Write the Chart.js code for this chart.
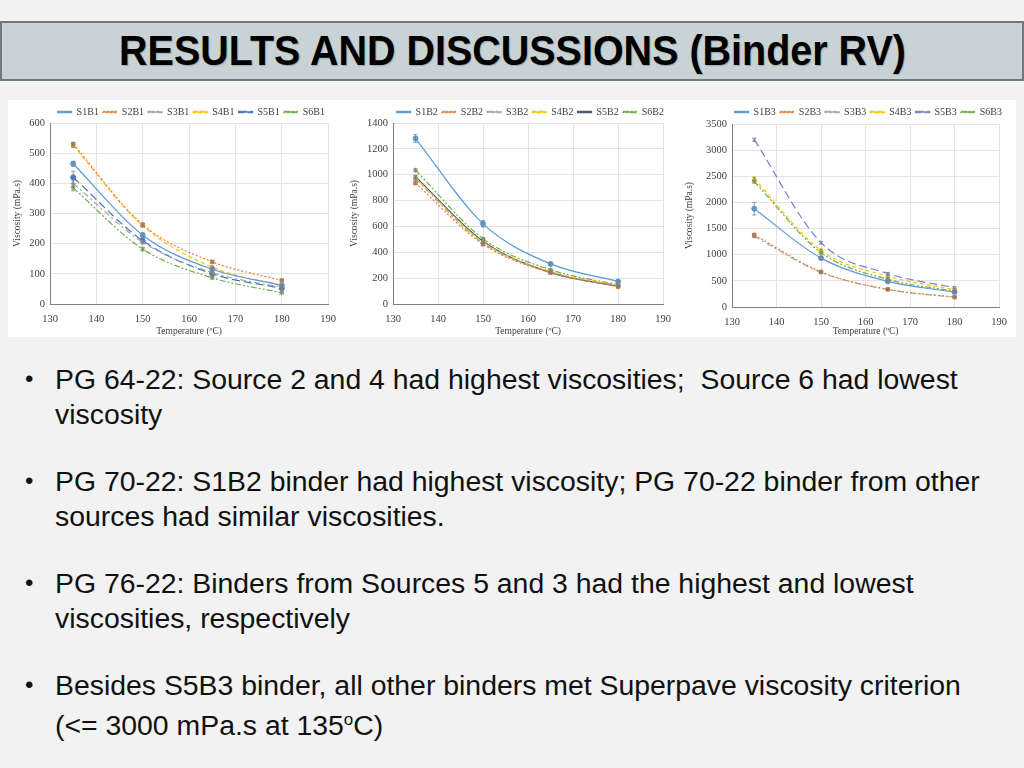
<!DOCTYPE html>
<html><head><meta charset="utf-8">
<script src="https://cdn.jsdelivr.net/npm/chart.js@4.4.1/dist/chart.umd.min.js"></script>
<style>
html,body{margin:0;padding:0;background:#f2f2f2;width:1024px;height:768px;overflow:hidden;font-family:"Liberation Sans",Arial,sans-serif;}
#title{position:absolute;left:0;top:21px;width:1020px;height:56px;background:#c9d3d5;border:2px solid #6e7b7c;text-align:center;}
#title span{display:inline-block;font-family:"Liberation Sans",Arial,sans-serif;font-weight:bold;font-size:42px;line-height:56px;color:#000;text-shadow:1px 1px 1px #9aa;transform:scaleX(0.94);transform-origin:center;white-space:nowrap;}
#panel{position:absolute;left:8px;top:100px;width:1008px;height:237px;background:#fff;}
.cv{position:absolute;top:100px;}
ul{position:absolute;left:0;top:362px;margin:0;padding:0;list-style:none;font-size:28.4px;color:#111;white-space:nowrap;}
li{position:relative;padding-left:55px;line-height:34.5px;margin-bottom:33px;}
li:before{content:"\2022";position:absolute;left:25px;font-size:24px;}
sup{font-size:17px;vertical-align:10px;}
</style></head>
<body>
<div id="title"><span>RESULTS AND DISCUSSIONS (Binder RV)</span></div>
<div id="panel"></div>
<canvas id="c1" class="cv" style="left:8px" width="337" height="237"></canvas>
<canvas id="c2" class="cv" style="left:345px" width="335" height="237"></canvas>
<canvas id="c3" class="cv" style="left:680px" width="336" height="237"></canvas>
<ul>
<li>PG 64-22: Source 2 and 4 had highest viscosities;&nbsp; Source 6 had lowest<br>viscosity</li>
<li>PG 70-22: S1B2 binder had highest viscosity; PG 70-22 binder from other<br>sources had similar viscosities.</li>
<li>PG 76-22: Binders from Sources 5 and 3 had the highest and lowest<br>viscosities, respectively</li>
<li>Besides S5B3 binder, all other binders met Superpave viscosity criterion<br>(&lt;= 3000 mPa.s at 135<sup>o</sup>C)</li>
</ul>
<script>
const temps = [135, 150, 165, 180];

// PG 64-22 (B1)
const b1Labels = ["S1B1","S2B1","S3B1","S4B1","S5B1","S6B1"];
const S1B1 = [465, 228, 115, 62];
const S2B1 = [530, 263, 140, 78];
const S3B1 = [400, 205, 104, 55];
const S4B1 = [525, 260, 122, 60];
const S5B1 = [420, 210, 100, 52];
const S6B1 = [385, 182, 87, 37];
const errB1 = [[8,8,5,3],[6,5,4,3],[10,6,4,3],[6,5,4,3],[20,8,5,3],[10,6,4,3]];

// PG 70-22 (B2)
const b2Labels = ["S1B2","S2B2","S3B2","S4B2","S5B2","S6B2"];
const S1B2 = [1280, 620, 310, 175];
const S2B2 = [935, 462, 242, 133];
const S3B2 = [968, 470, 246, 140];
const S4B2 = [975, 478, 252, 145];
const S5B2 = [985, 485, 243, 138];
const S6B2 = [1035, 505, 265, 148];
const errB2 = [[30,25,10,8],[10,8,6,5],[10,8,6,5],[10,8,6,5],[10,8,6,5],[10,8,6,5]];

// PG 76-22 (B3)
const b3Labels = ["S1B3","S2B3","S3B3","S4B3","S5B3","S6B3"];
const S1B3 = [1880, 935, 490, 285];
const S2B3 = [1380, 672, 338, 190];
const S3B3 = [1350, 662, 335, 185];
const S4B3 = [2450, 1080, 590, 330];
const S5B3 = [3200, 1230, 640, 370];
const S6B3 = [2400, 1040, 530, 300];
const errB3 = [[120,30,20,15],[20,20,15,10],[20,20,15,10],[30,25,20,15],[30,25,20,15],[30,25,20,15]];

const xTicks = [130,140,150,160,170,180,190];

const styles = [
  {color:"#5b9bd5", dash:[], point:"circle"},
  {color:"#ed7d31", dash:[2,2], point:"rect"},
  {color:"#a5a5a5", dash:[6,3,2,3], point:"cross"},
  {color:"#ffc000", dash:[4,3], point:"triangle"},
  {color:"#4472c4", dash:[8,4], point:"circle"},
  {color:"#70ad47", dash:[6,2,2,2,2,2], point:"star"}
];

const errorBars = {
  id:"errorBars",
  afterDatasetsDraw(chart){
    const ctx = chart.ctx, ys = chart.scales.y, xs = chart.scales.x;
    chart.data.datasets.forEach((ds) => {
      const err = ds.err; if(!err) return;
      ctx.save();
      ctx.strokeStyle = "#7f7f7f"; ctx.lineWidth = 0.8; ctx.setLineDash([]);
      ds.data.forEach((p, j) => {
        const x = xs.getPixelForValue(p.x);
        const y1 = ys.getPixelForValue(p.y + err[j]);
        const y2 = ys.getPixelForValue(p.y - err[j]);
        ctx.beginPath();
        ctx.moveTo(x, y1); ctx.lineTo(x, y2);
        ctx.moveTo(x-2, y1); ctx.lineTo(x+2, y1);
        ctx.moveTo(x-2, y2); ctx.lineTo(x+2, y2);
        ctx.stroke();
      });
      ctx.restore();
    });
  }
};

function legendHeight(h){
  return {
    id:"legendHeight",
    beforeUpdate(chart){
      const lg = chart.legend;
      if(lg && !lg._fixed){
        const orig = lg.fit.bind(lg);
        lg.fit = function(){ orig(); this.height = h; };
        lg._fixed = true;
      }
    }
  };
}

function makeChart(id, labels, series, errs, yMax, yStep, yWidth, padRight, legendH, xH, s5){
  const datasets = labels.map((lab, i) => {
    const st = Object.assign({}, styles[i], (i===4 && s5) ? s5 : {});
    return {
      label: lab,
      data: temps.map((t, j) => ({x:t, y:series[i][j]})),
      err: errs[i],
      borderColor: st.color,
      backgroundColor: st.color,
      borderDash: st.dash,
      borderWidth: 1.2,
      pointStyle: st.point,
      pointRadius: 2.5,
      pointBorderWidth: 1,
      tension: 0.4,
      cubicInterpolationMode: "monotone",
      fill: false
    };
  });
  const serif = "'Liberation Serif','Times New Roman',serif";
  return new Chart(document.getElementById(id), {
    type: "line",
    data: {datasets},
    plugins: [errorBars, legendHeight(legendH)],
    options: {
      responsive: false,
      animation: false,
      layout: {padding: {left: 4, right: padRight, top: 3, bottom: 0}},
      plugins: {
        tooltip: {enabled:false},
        legend: {
          position: "top",
          align: "end",
          labels: {boxWidth: 14, boxHeight: 1.5, padding: 4, color:"#404040",
            font: {family: serif, size: 10}}
        }
      },
      scales: {
        x: {
          type: "linear", min: 130, max: 190,
          afterBuildTicks: s => { s.ticks = xTicks.map(v => ({value:v})); },
          grid: {color:"#e3e3e3", drawTicks:false},
          border: {color:"#808080"},
          ticks: {color:"#404040", padding: 9, font:{family: serif, size: 10.5}, callback: v => String(v)},
          title: {display:true, text:"Temperature (ºC)", color:"#404040", padding:{top:0,bottom:0}, font:{family: serif, size: 9.5}},
          afterFit: s => { s.height = xH; }
        },
        y: {
          min: 0, max: yMax,
          grid: {color:"#e3e3e3", drawTicks:false},
          border: {color:"#808080"},
          ticks: {stepSize: yStep, color:"#404040", padding: 5, font:{family: serif, size: 10.5}, callback: v => String(v)},
          title: {display:true, text:"Viscosity (mPa.s)", color:"#404040", padding:{top:0,bottom:2}, font:{family: serif, size: 9.5}},
          afterFit: s => { s.width = yWidth; }
        }
      }
    }
  });
}

makeChart("c1", b1Labels, [S1B1,S2B1,S3B1,S4B1,S5B1,S6B1], errB1, 600, 100, 38, 16, 20, 33, null);
makeChart("c2", b2Labels, [S1B2,S2B2,S3B2,S4B2,S5B2,S6B2], errB2, 1400, 200, 44, 12, 20, 33, {color:"#44546a", dash:[], point:"crossRot"});
makeChart("c3", b3Labels, [S1B3,S2B3,S3B3,S4B3,S5B3,S6B3], errB3, 3500, 500, 48, 10, 21, 30, {color:"#7083d0", dash:[8,4], point:"crossRot"});
</script>
</body></html>
